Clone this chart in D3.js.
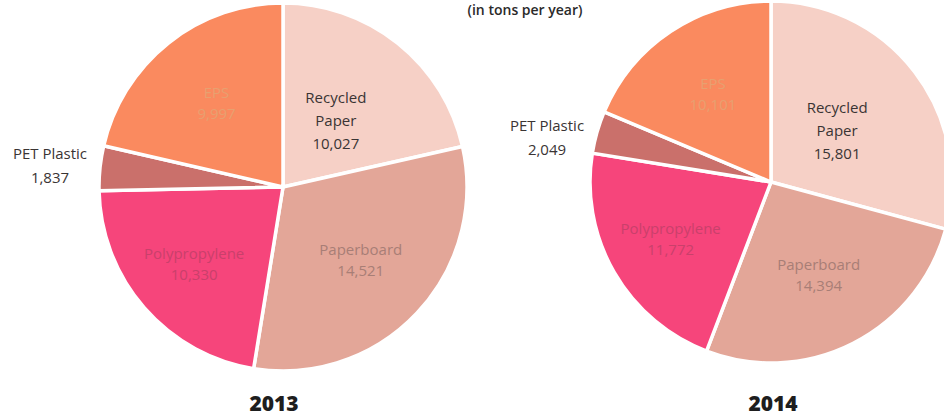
<!DOCTYPE html>
<html>
<head>
<meta charset="utf-8">
<script src="https://cdn.jsdelivr.net/npm/d3@7"></script>
<style>
  body { margin: 0; background: #fff; }
  svg { display: block; font-family: "Open Sans", "DejaVu Sans", sans-serif; }
</style>
</head>
<body>
<div id="chart"></div>
<script>

// categories in drawing order, clockwise from 12 o'clock
var categories = ['Recycled Paper', 'Paperboard', 'Polypropylene', 'PET Plastic', 'EPS'];
var values2013 = [10027, 14521, 10330, 1837, 9997];
var values2014 = [15801, 14394, 11772, 2049, 10101];
var years = ['2013', '2014'];

var width = 944, height = 416;

var color = d3.scaleOrdinal()
    .domain(categories)
    .range(['#f6d0c6', '#e3a698', '#f6457b', '#ca706b', '#fa8a5f']);

// label text colour per slice (the scan makes most of them faint)
var textColor = d3.scaleOrdinal()
    .domain(categories)
    .range(['#3a3434', '#a87e76', '#c9406b', '#3a3434', '#e7a070']);

// how far out (fraction of radius) each inside label sits
var labelRadius = d3.scaleOrdinal()
    .domain(categories)
    .range([0.46, 0.58, 0.64, 1, 0.58]);

var svg = d3.select('#chart').append('svg')
    .attr('width', width)
    .attr('height', height);

svg.append('text')
    .attr('x', 525)
    .attr('y', 15)
    .attr('text-anchor', 'middle')
    .style('font-size', '14px')
    .style('font-weight', '600')
    .style('fill', '#2a2a2a')
    .text('(in tons per year)');

var pies = [
  {year: years[0], values: values2013, cx: 283, cy: 187, r: 184, yearX: 274},
  {year: years[1], values: values2014, cx: 771, cy: 182, r: 181, yearX: 773}
];

var pie = d3.pie().sort(null).value(function(d) { return d.value; });

pies.forEach(function(p) {
  var data = categories.map(function(c, i) { return {name: c, value: p.values[i]}; });
  var arcs = pie(data);

  var arc = d3.arc().innerRadius(0).outerRadius(p.r);

  var g = svg.append('g')
      .attr('transform', 'translate(' + p.cx + ',' + p.cy + ')');

  g.selectAll('path')
      .data(arcs)
    .enter().append('path')
      .attr('d', arc)
      .style('fill', function(d) { return color(d.data.name); })
      .style('stroke', '#fff')
      .style('stroke-width', 3.5)
      .style('stroke-linejoin', 'round');

  arcs.forEach(function(d) {
    var fmt = d3.format(',')(d.data.value);
    var mid = (d.startAngle + d.endAngle) / 2;
    var lines, pos, gap;
    if (d.data.name === 'PET Plastic') {
      // outside label, left of the thin slice
      pos = [Math.sin(mid) * p.r - 50, -Math.cos(mid) * p.r * 0.75 - 7];
      lines = ['PET Plastic', fmt];
      gap = 24;
    } else {
      var lr = labelRadius(d.data.name) * p.r;
      pos = [Math.sin(mid) * lr, -Math.cos(mid) * lr];
      if (d.data.name === 'Recycled Paper') {
        lines = ['Recycled', 'Paper', fmt];
        gap = 23;
      } else {
        lines = [d.data.name, fmt];
        gap = 21;
      }
    }
    var t = g.append('text')
        .attr('x', pos[0])
        .attr('y', pos[1])
        .attr('text-anchor', 'middle')
        .style('font-size', '15px')
        .style('fill', textColor(d.data.name));
    lines.forEach(function(l, i) {
      t.append('tspan')
        .attr('x', pos[0])
        .attr('dy', i === 0 ? (-(lines.length - 1) * gap / 2 + 5) + 'px' : gap + 'px')
        .text(l);
    });
  });

  svg.append('text')
      .attr('x', p.yearX)
      .attr('y', 411)
      .attr('text-anchor', 'middle')
      .style('font-size', '21px')
      .style('font-weight', '800')
      .style('fill', '#1e1e1e')
      .text(p.year);
});

</script>
</body>
</html>
